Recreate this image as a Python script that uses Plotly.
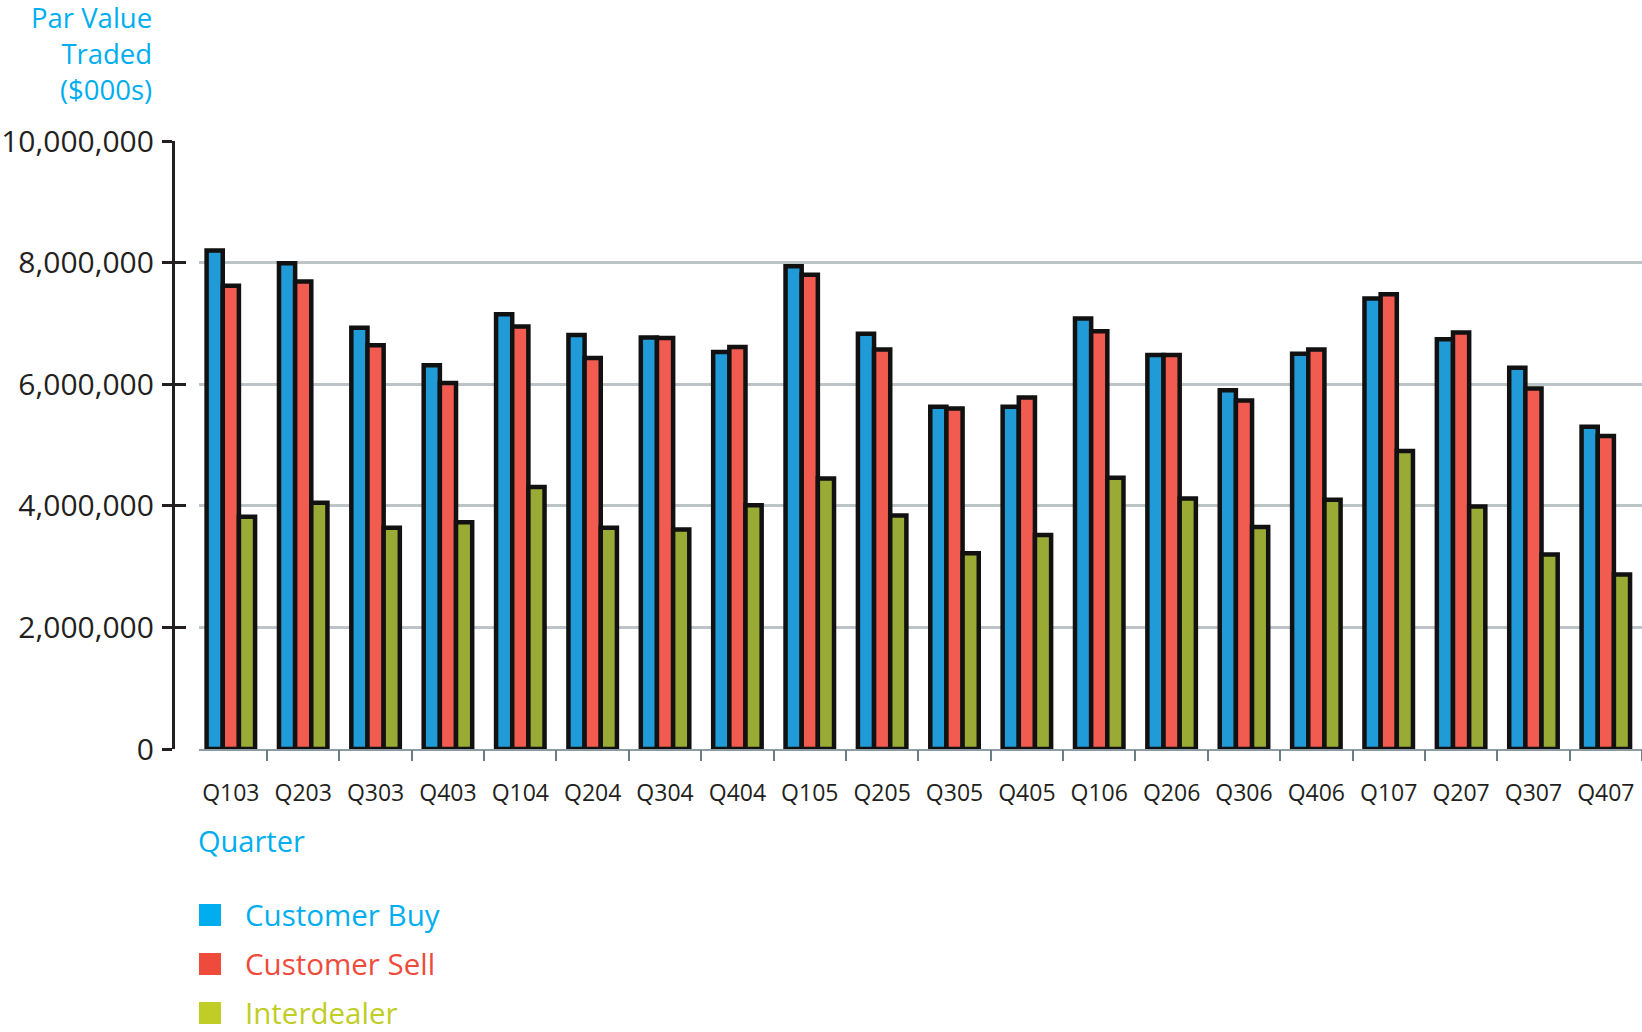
import plotly.graph_objects as go

# Quarterly par value traded, in $000s
quarters = ["Q103", "Q203", "Q303", "Q403", "Q104", "Q204", "Q304", "Q404",
            "Q105", "Q205", "Q305", "Q405", "Q106", "Q206", "Q306", "Q406",
            "Q107", "Q207", "Q307", "Q407"]

customer_buy = [8200000, 7990000, 6930000, 6310000, 7150000, 6810000, 6770000, 6530000,
                7940000, 6830000, 5630000, 5630000, 7080000, 6480000, 5900000, 6500000,
                7410000, 6740000, 6270000, 5300000]

customer_sell = [7620000, 7690000, 6640000, 6020000, 6950000, 6430000, 6760000, 6610000,
                 7800000, 6570000, 5600000, 5780000, 6870000, 6480000, 5730000, 6570000,
                 7480000, 6850000, 5930000, 5150000]

interdealer = [3820000, 4050000, 3640000, 3730000, 4310000, 3640000, 3610000, 4010000,
               4450000, 3840000, 3220000, 3520000, 4460000, 4120000, 3650000, 4100000,
               4900000, 3990000, 3200000, 2870000]

series_names = ["Customer Buy", "Customer Sell", "Interdealer"]
bar_colors = ["#219bd7", "#f15b50", "#9aab35"]
key_colors = ["#00aeef", "#ef4b3d", "#bfcd26"]

y_ticks = [0, 2000000, 4000000, 6000000, 8000000, 10000000]
y_title = "Par Value<br>Traded<br>($000s)"

W, H = 1642, 1032
M_T, M_B = 141, 283
PLOT_H = H - M_T - M_B
X_DOMAIN_START = 199 / W
Y_AXIS_POS = 172.7 / W
X_RANGE = [-0.44, len(quarters) - 0.5]


def py(pixel_y):
    """Pixel row from the top of the page -> paper y."""
    return (H - M_B - pixel_y) / PLOT_H


def px(pixel_x):
    return pixel_x / W


fig = go.Figure()
for name, vals, col in zip(series_names, [customer_buy, customer_sell, interdealer], bar_colors):
    fig.add_trace(go.Bar(
        x=quarters, y=vals, name=name,
        marker=dict(color=col, line=dict(color="#111111", width=4.5)),
        showlegend=False,
    ))

# carrier trace for the overlay axes (tick crossings on y, boundary ticks on x)
fig.add_trace(go.Scatter(x=[None], y=[None], xaxis="x2", yaxis="y2",
                         showlegend=False, hoverinfo="skip"))

tick_color = "#231f20"
fig.update_layout(
    width=W, height=H, autosize=False,
    margin=dict(l=0, r=0, t=M_T, b=M_B, pad=0),
    plot_bgcolor="white", paper_bgcolor="white",
    barmode="group", bargap=0.33, bargroupgap=0,
    showlegend=False,
    font=dict(family="Open Sans", color=tick_color),
    xaxis=dict(
        domain=[X_DOMAIN_START, 1], range=X_RANGE, type="category",
        showgrid=False, zeroline=False, ticks="",
        showline=True, linecolor="#8d9ca3", linewidth=2,
        tickfont=dict(size=23, color=tick_color),
        ticklabelstandoff=22,
    ),
    xaxis2=dict(
        overlaying="x", anchor="y", range=X_RANGE,
        tickmode="array", tickvals=[i + 0.5 for i in range(len(quarters))],
        ticks="outside", ticklen=11, tickwidth=2, tickcolor="#6d7d84",
        showticklabels=False, showgrid=False, showline=False, zeroline=False,
    ),
    yaxis=dict(
        anchor="free", position=Y_AXIS_POS, range=[0, 10000000],
        tickmode="array", tickvals=y_ticks, tickformat=",d",
        ticks="outside", ticklen=10, tickwidth=2.5, tickcolor=tick_color,
        showline=True, linecolor=tick_color, linewidth=2.5,
        showgrid=True, gridcolor="#bcc4c8", gridwidth=3, zeroline=False,
        tickfont=dict(size=30, color=tick_color),
        ticklabelstandoff=2,
    ),
    yaxis2=dict(
        overlaying="y", anchor="free", position=Y_AXIS_POS, range=[0, 10000000],
        tickmode="array", tickvals=y_ticks,
        ticks="inside", ticklen=12, tickwidth=2.5, tickcolor=tick_color,
        showticklabels=False, showgrid=False, showline=False, zeroline=False,
    ),
)

annotations = [
    dict(text=y_title, xref="paper", yref="paper",
         x=px(154), y=py(54), xanchor="right", yanchor="middle", align="right",
         showarrow=False, font=dict(size=27.5, color="#00aeef")),
    dict(text="Quarter", xref="paper", yref="paper",
         x=px(196), y=py(840), xanchor="left", yanchor="middle",
         showarrow=False, font=dict(size=29, color="#00aeef")),
]

shapes = []
key_rows = [915, 964, 1013]
for name, col, row in zip(series_names, key_colors, key_rows):
    shapes.append(dict(type="rect", xref="paper", yref="paper",
                       x0=px(199), x1=px(221), y0=py(row + 11), y1=py(row - 11),
                       fillcolor=col, line=dict(width=0)))
    annotations.append(dict(text=name, xref="paper", yref="paper",
                            x=px(243), y=py(row - 1), xanchor="left", yanchor="middle",
                            showarrow=False, font=dict(size=29.5, color=col)))

fig.update_layout(annotations=annotations, shapes=shapes)

fig.write_html("out.html")
